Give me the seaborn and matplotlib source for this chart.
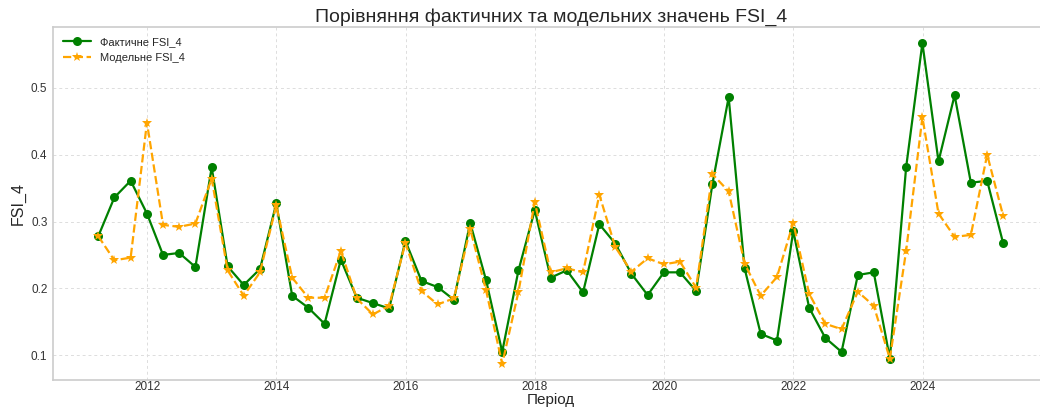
import numpy as np
import pandas as pd
import matplotlib
matplotlib.use("Agg")
import matplotlib.pyplot as plt
import matplotlib.dates as mdates
import seaborn as sns

# Quarterly periods (quarter-end dates), 2011Q1 .. 2025Q1
periods = pd.date_range("2011-03-31", "2025-03-31", freq="QE")

actual = [0.278, 0.336, 0.361, 0.312, 0.250, 0.253, 0.232, 0.381,
          0.233, 0.205, 0.229, 0.327, 0.189, 0.171, 0.147, 0.243,
          0.186, 0.178, 0.170, 0.271, 0.211, 0.202, 0.183, 0.298,
          0.212, 0.105, 0.227, 0.317, 0.216, 0.227, 0.194, 0.296,
          0.267, 0.222, 0.190, 0.224, 0.224, 0.196, 0.356, 0.486,
          0.230, 0.132, 0.122, 0.286, 0.171, 0.126, 0.105, 0.220,
          0.224, 0.095, 0.381, 0.567, 0.390, 0.489, 0.358, 0.361,
          0.268]

model = [0.278, 0.242, 0.246, 0.448, 0.295, 0.292, 0.297, 0.364,
         0.227, 0.189, 0.224, 0.324, 0.216, 0.186, 0.186, 0.256,
         0.185, 0.161, 0.174, 0.268, 0.196, 0.176, 0.185, 0.289,
         0.197, 0.087, 0.195, 0.329, 0.224, 0.230, 0.224, 0.340,
         0.262, 0.225, 0.245, 0.236, 0.240, 0.201, 0.371, 0.345,
         0.237, 0.189, 0.217, 0.298, 0.192, 0.147, 0.139, 0.195,
         0.174, 0.095, 0.256, 0.456, 0.312, 0.277, 0.280, 0.400,
         0.309]

label_actual = "Фактичне FSI_4"
label_model = "Модельне FSI_4"
title = "Порівняння фактичних та модельних значень FSI_4"
xlabel = "Період"
ylabel = "FSI_4"

df = pd.DataFrame({"period": periods, "actual": actual, "model": model})

sns.set_style("whitegrid")
plt.rcParams["font.family"] = ["Liberation Sans", "DejaVu Sans"]

fig = plt.figure(figsize=(10.4, 4.09), dpi=100)
ax = fig.add_axes([0.051, 0.071, 0.957, 0.863])

sns.lineplot(data=df, x="period", y="actual", ax=ax, color="green",
             marker="o", markersize=6.5, markeredgewidth=0, linewidth=1.6,
             label=label_actual)
sns.lineplot(data=df, x="period", y="model", ax=ax, color="orange",
             marker="*", markersize=7.5, markeredgewidth=0, linewidth=1.6,
             linestyle="--", label=label_model)

ax.xaxis.set_major_locator(mdates.YearLocator(2))
ax.xaxis.set_major_formatter(mdates.DateFormatter("%Y"))
ax.set_yticks([0.1, 0.2, 0.3, 0.4, 0.5])

ax.grid(True, linestyle=(0, (3, 3)), color="#dddddd", linewidth=0.7)
for s in ax.spines.values():
    s.set_color("#cccccc")
    s.set_linewidth(1.2)

ax.tick_params(axis="both", labelsize=8.5, colors="#333333", length=0)
ax.tick_params(axis="x", pad=1)
ax.tick_params(axis="y", pad=4)
ax.set_title(title, fontsize=14, color="#262626", pad=4)
ax.set_xlabel(xlabel, fontsize=11, color="#262626", labelpad=0)
ax.set_ylabel(ylabel, fontsize=11.5, color="#262626", labelpad=4)

leg = ax.legend(loc="upper left", fontsize=8, frameon=False,
                handlelength=2.5, borderaxespad=0.5)

fig.savefig("out.png", dpi=100)
